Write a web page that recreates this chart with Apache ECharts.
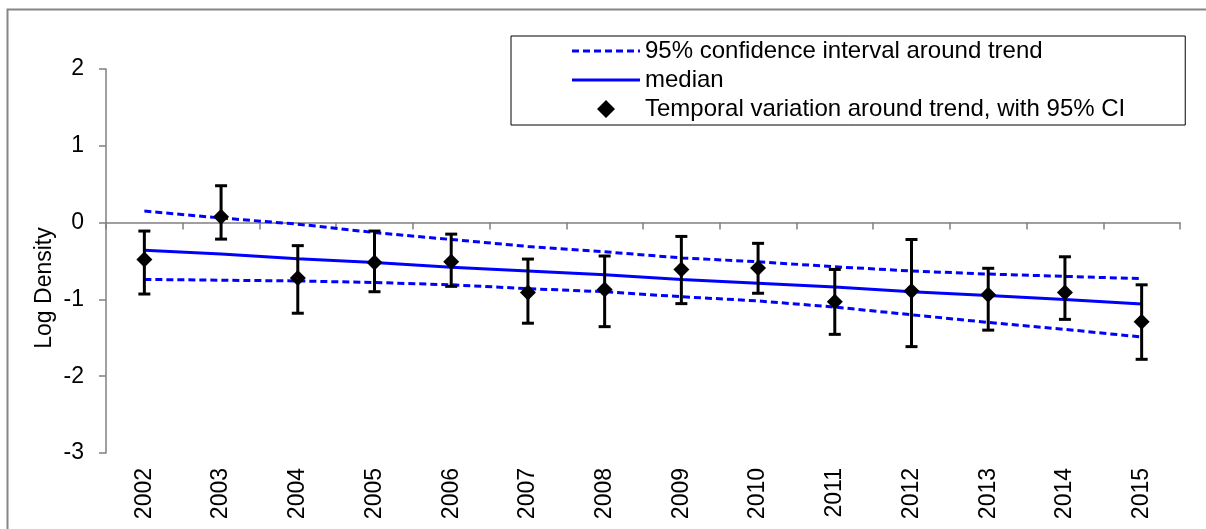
<!DOCTYPE html>
<html>
<head>
<meta charset="utf-8">
<script src="https://cdn.jsdelivr.net/npm/echarts@6/dist/echarts.min.js"></script>
<style>
html,body{margin:0;padding:0;background:#fff;}
#chart{width:1206px;height:529px;}
</style>
</head>
<body>
<div id="chart"></div>
<script>
const years = ['2002','2003','2004','2005','2006','2007','2008','2009','2010','2011','2012','2013','2014','2015'];
const upperCI = [0.15, 0.06, -0.02, -0.13, -0.22, -0.31, -0.38, -0.46, -0.51, -0.575, -0.63, -0.67, -0.70, -0.73];
const lowerCI = [-0.74, -0.75, -0.76, -0.78, -0.81, -0.86, -0.90, -0.965, -1.02, -1.10, -1.20, -1.30, -1.39, -1.49];
const median = [-0.36, -0.41, -0.47, -0.52, -0.58, -0.63, -0.68, -0.74, -0.79, -0.84, -0.90, -0.95, -1.00, -1.06];
const estimate = [-0.48, 0.075, -0.72, -0.52, -0.51, -0.91, -0.87, -0.61, -0.59, -1.03, -0.89, -0.94, -0.91, -1.29];
const ciLow = [-0.93, -0.215, -1.18, -0.90, -0.83, -1.31, -1.355, -1.055, -0.92, -1.455, -1.615, -1.40, -1.26, -1.78];
const ciHigh = [-0.11, 0.48, -0.30, -0.11, -0.15, -0.475, -0.435, -0.18, -0.27, -0.61, -0.22, -0.595, -0.445, -0.81];
const yTicks = [-3, -2, -1, 0, 1, 2];

const CI_NAME = '95% confidence interval around trend';
const MED_NAME = 'median';
const PT_NAME = 'Temporal variation around trend, with 95% CI';
const FONT = '"Liberation Sans", Arial, sans-serif';

// legend icons: paths spanning the full 68x18 icon box (tiny corner specks fix the box)
const SPECKS = 'M0,0h0.01v0.01h-0.01z M68,18h-0.01v-0.01h0.01z ';
const ICON_DASH = 'path://' + SPECKS + 'M0,7.5h7v3h-7z M11,7.5h7v3h-7z M22,7.5h7v3h-7z M33,7.5h7v3h-7z M44,7.5h7v3h-7z M55,7.5h7v3h-7z M66,7.5h2v3h-2z';
const ICON_SOLID = 'path://' + SPECKS + 'M0,7.5h68v3h-68z';
const ICON_DIAMOND = 'path://' + SPECKS + 'M34,0 L43,9 L34,18 L25,9 Z';

const errData = years.map((y, i) => [i, ciLow[i], ciHigh[i]]);

const chart = echarts.init(document.getElementById('chart'), null, {renderer: 'canvas'});
chart.setOption({
  animation: false,
  backgroundColor: '#fff',
  textStyle: {fontFamily: FONT},
  graphic: [
    {type: 'rect', silent: true, z: -10,
     shape: {x: 7.5, y: 9.5, width: 1250, height: 600},
     style: {fill: null, stroke: '#868686', lineWidth: 2}},
    {type: 'text', x: 45, y: 288, rotation: Math.PI / 2,
     style: {text: 'Log Density', fill: '#000', font: '23px "Liberation Sans", Arial, sans-serif',
             align: 'center', verticalAlign: 'middle'}}
  ],
  grid: {left: 106, right: 26, top: 69, bottom: 76, containLabel: false},
  legend: {
    left: 511, top: 36,
    orient: 'vertical',
    padding: [3, 60, 4, 61],
    itemGap: 5,
    itemWidth: 68,
    itemHeight: 18,
    symbolKeepAspect: false,
    borderColor: '#000',
    borderWidth: 1,
    itemStyle: {borderWidth: 0, opacity: 1},
    textStyle: {fontSize: 24, color: '#000', fontFamily: FONT},
    data: [
      {name: CI_NAME, icon: ICON_DASH, itemStyle: {color: '#0000ff', borderWidth: 0, opacity: 1}},
      {name: MED_NAME, icon: ICON_SOLID, itemStyle: {color: '#0000ff', borderWidth: 0, opacity: 1}},
      {name: PT_NAME, icon: ICON_DIAMOND, itemStyle: {color: '#000', borderWidth: 0, opacity: 1}}
    ]
  },
  xAxis: {
    type: 'category',
    data: years,
    boundaryGap: true,
    axisLine: {lineStyle: {color: '#808080', width: 1.5}},
    axisTick: {show: true, inside: false, length: 7, lineStyle: {color: '#808080', width: 1.5}},
    axisLabel: {rotate: 90, margin: 15, fontSize: 23, color: '#000', fontFamily: FONT},
    splitLine: {show: false}
  },
  yAxis: {
    type: 'value',
    min: -3, max: 2, interval: 1,
    axisLine: {show: true, lineStyle: {color: '#808080', width: 1.5}},
    axisTick: {show: true, inside: false, length: 7, lineStyle: {color: '#808080', width: 1.5}},
    axisLabel: {margin: 22, fontSize: 23, color: '#000', fontFamily: FONT,
                formatter: v => yTicks.includes(v) ? String(v) : ''},
    splitLine: {show: false}
  },
  series: [
    {name: CI_NAME, type: 'line', data: upperCI, symbol: 'none', z: 2,
     lineStyle: {color: '#0000ff', width: 3, type: [7, 4]}, itemStyle: {color: '#0000ff'}},
    {name: CI_NAME, type: 'line', data: lowerCI, symbol: 'none', z: 2,
     lineStyle: {color: '#0000ff', width: 3, type: [7, 4]}, itemStyle: {color: '#0000ff'}},
    {name: MED_NAME, type: 'line', data: median, symbol: 'none', z: 2,
     lineStyle: {color: '#0000ff', width: 3, type: 'solid'}, itemStyle: {color: '#0000ff'}},
    {name: 'errorbars', type: 'custom', z: 3, data: errData,
     renderItem: function (params, api) {
       const x = api.value(0);
       const lo = api.coord([x, api.value(1)]);
       const hi = api.coord([x, api.value(2)]);
       const hw = 6;
       const st = {stroke: '#000', lineWidth: 3};
       return {type: 'group', children: [
         {type: 'line', shape: {x1: lo[0], y1: lo[1], x2: hi[0], y2: hi[1]}, style: st},
         {type: 'line', shape: {x1: lo[0] - hw, y1: lo[1], x2: lo[0] + hw, y2: lo[1]}, style: st},
         {type: 'line', shape: {x1: hi[0] - hw, y1: hi[1], x2: hi[0] + hw, y2: hi[1]}, style: st}
       ]};
     }},
    {name: PT_NAME, type: 'scatter', data: estimate, symbol: 'diamond', symbolSize: 16, z: 4,
     itemStyle: {color: '#000', opacity: 1}}
  ]
});
</script>
</body>
</html>
